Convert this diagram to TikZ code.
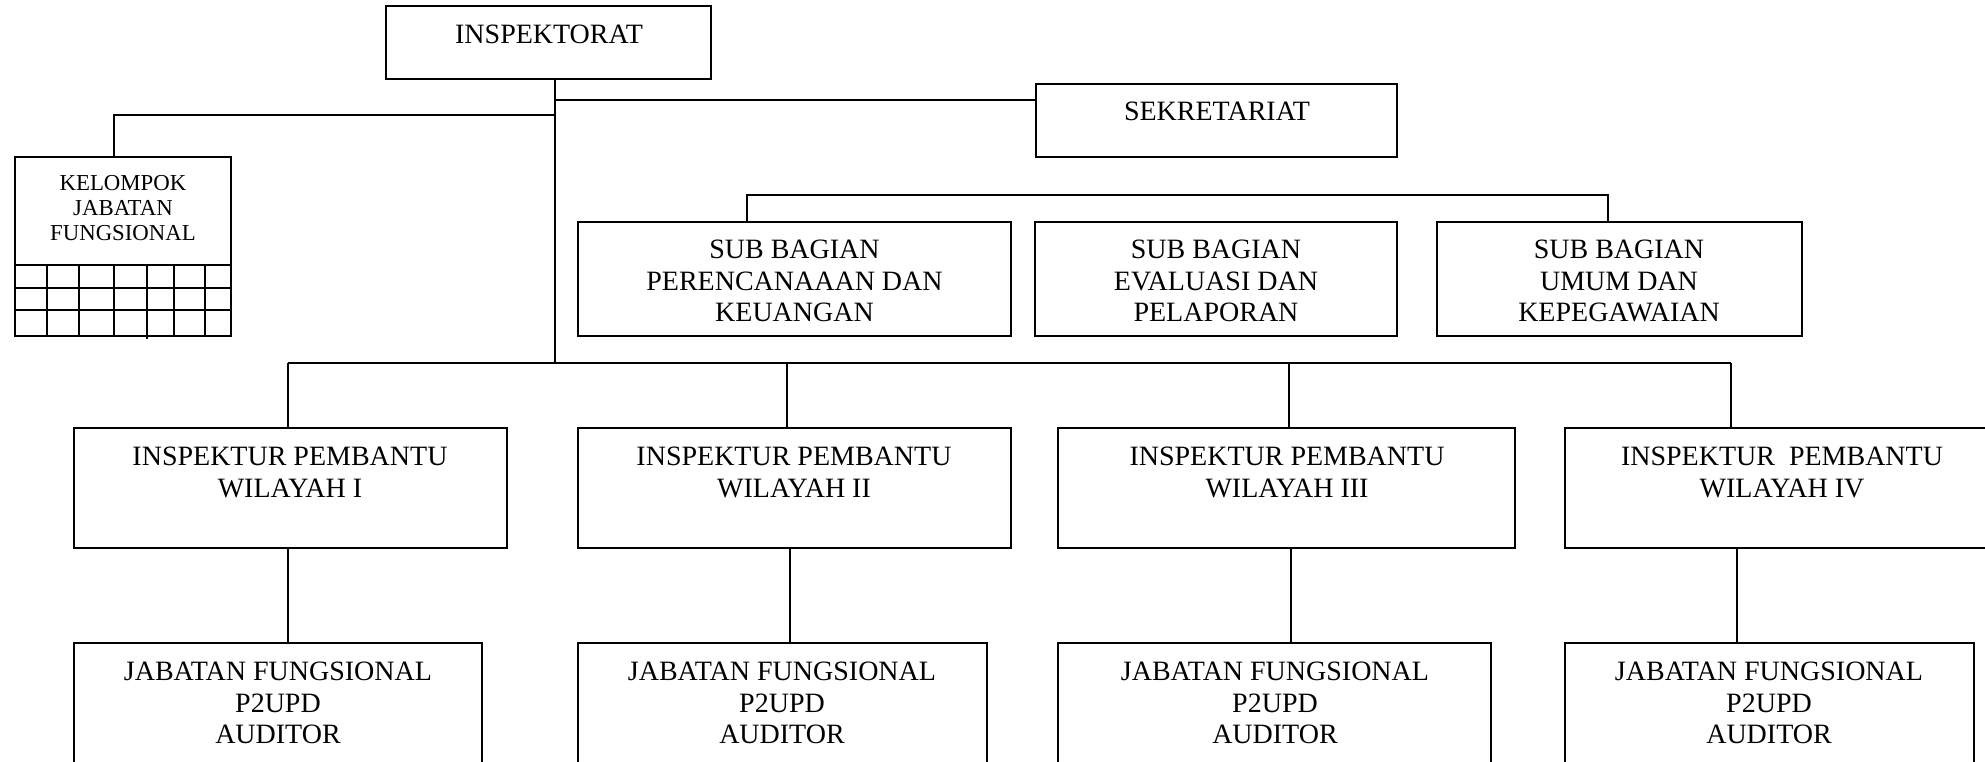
\documentclass[tikz,border=0pt]{standalone}
\usepackage{fontspec}
\setmainfont{Liberation Serif}
\usetikzlibrary{calc}
\newcommand{\mkbox}[5]{\node[box,anchor=north west,minimum width={(#4-#2)*0.5pt},minimum height={(#5-#3)*0.5pt}] (#1) at (#2,#3) {};}
\tikzset{
  box/.style={draw, line width=1.2pt, inner sep=0pt, outer sep=0pt},
  txt/.style={inner sep=0pt, outer sep=0pt, anchor=north, align=center, font=\fontsize{14}{15.75}\selectfont},
  smalltxt/.style={txt, font=\fontsize{11.4}{12.5}\selectfont},
  conn/.style={line width=1pt},
  grid/.style={line width=0.9pt}
}
\begin{document}
\begin{tikzpicture}[x=0.5pt,y=-0.5pt]
\useasboundingbox (0,0) rectangle (1985,761);
\clip (0,0) rectangle (1985,761);
% boxes
\mkbox{insp}{386}{6}{711}{79}
\mkbox{sek}{1036}{84}{1397}{157}
\mkbox{kjf}{15}{157}{231}{336}
\mkbox{sb1}{578}{222}{1011}{336}
\mkbox{sb2}{1035}{222}{1397}{336}
\mkbox{sb3}{1437}{222}{1802}{336}
\mkbox{ip1}{74}{428}{507}{548}
\mkbox{ip2}{578}{428}{1011}{548}
\mkbox{ip3}{1058}{428}{1515}{548}
\mkbox{ip4}{1565}{428}{2000}{548}
\mkbox{jf1}{74}{643}{482}{800}
\mkbox{jf2}{578}{643}{987}{800}
\mkbox{jf3}{1058}{643}{1491}{800}
\mkbox{jf4}{1565}{643}{1974}{800}
% texts
\node[txt] (insp-t) at (549,25) {INSPEKTORAT};
\node[txt] (sek-t) at (1217,102) {SEKRETARIAT};
\node[smalltxt] (kjf-t) at (123,175) {KELOMPOK\\JABATAN\\FUNGSIONAL};
\node[txt] (sb1-t) at (794.5,240) {SUB BAGIAN\\PERENCANAAAN DAN\\KEUANGAN};
\node[txt] (sb2-t) at (1216,240) {SUB BAGIAN\\EVALUASI DAN\\PELAPORAN};
\node[txt] (sb3-t) at (1619,240) {SUB BAGIAN\\UMUM DAN\\KEPEGAWAIAN};
\node[txt] (ip1-t) at (290,447) {INSPEKTUR PEMBANTU\\WILAYAH I};
\node[txt] (ip2-t) at (794,447) {INSPEKTUR PEMBANTU\\WILAYAH II};
\node[txt] (ip3-t) at (1287,447) {INSPEKTUR PEMBANTU\\WILAYAH III};
\node[txt] (ip4-t) at (1782,447) {INSPEKTUR\ \ PEMBANTU\\WILAYAH IV};
\node[txt] (jf1-t) at (278,662) {JABATAN FUNGSIONAL\\P2UPD\\AUDITOR};
\node[txt] (jf2-t) at (782,662) {JABATAN FUNGSIONAL\\P2UPD\\AUDITOR};
\node[txt] (jf3-t) at (1275,662) {JABATAN FUNGSIONAL\\P2UPD\\AUDITOR};
\node[txt] (jf4-t) at (1769,662) {JABATAN FUNGSIONAL\\P2UPD\\AUDITOR};
% KJF grid
\foreach \yy in {265,288,310} \draw[grid] (kjf.west |- 0,\yy) -- (kjf.east |- 0,\yy);
\foreach \xx in {47,79,114,174,205} \draw[grid] (\xx,265) -- (\xx,336);
\draw[grid] (147,265) -- (147,339);
% junction coordinates
\coordinate (jtop) at (555,79);
\coordinate (jsek) at (555,100);
\coordinate (jkjf) at (555,115);
\coordinate (jbot) at (555,363);
\coordinate (sbl) at (747,195);
\coordinate (sbr) at (1608,195);
\coordinate (barl) at (288,363);
\coordinate (barr) at (1731,363);
% connectors
\draw[conn] (jtop) -- (jbot);
\draw[conn] (jsek) -- (jsek -| sek.west);
\draw[conn] (jkjf) -| (kjf.north -| 114,0);
\draw[conn] (sb1.north -| sbl) -- (sbl) -- (sbr) -- (sb3.north -| sbr);
\draw[conn] (barl) -- (barr);
\draw[conn] (barl) -- (ip1.north -| barl);
\draw[conn] (jbot -| 787,0) -- (ip2.north -| 787,0);
\draw[conn] (jbot -| 1289,0) -- (ip3.north -| 1289,0);
\draw[conn] (barr) -- (ip4.north -| barr);
\draw[conn] (ip1.south -| 288,0) -- (jf1.north -| 288,0);
\draw[conn] (ip2.south -| 790,0) -- (jf2.north -| 790,0);
\draw[conn] (ip3.south -| 1291,0) -- (jf3.north -| 1291,0);
\draw[conn] (ip4.south -| 1737,0) -- (jf4.north -| 1737,0);
\end{tikzpicture}
\end{document}
